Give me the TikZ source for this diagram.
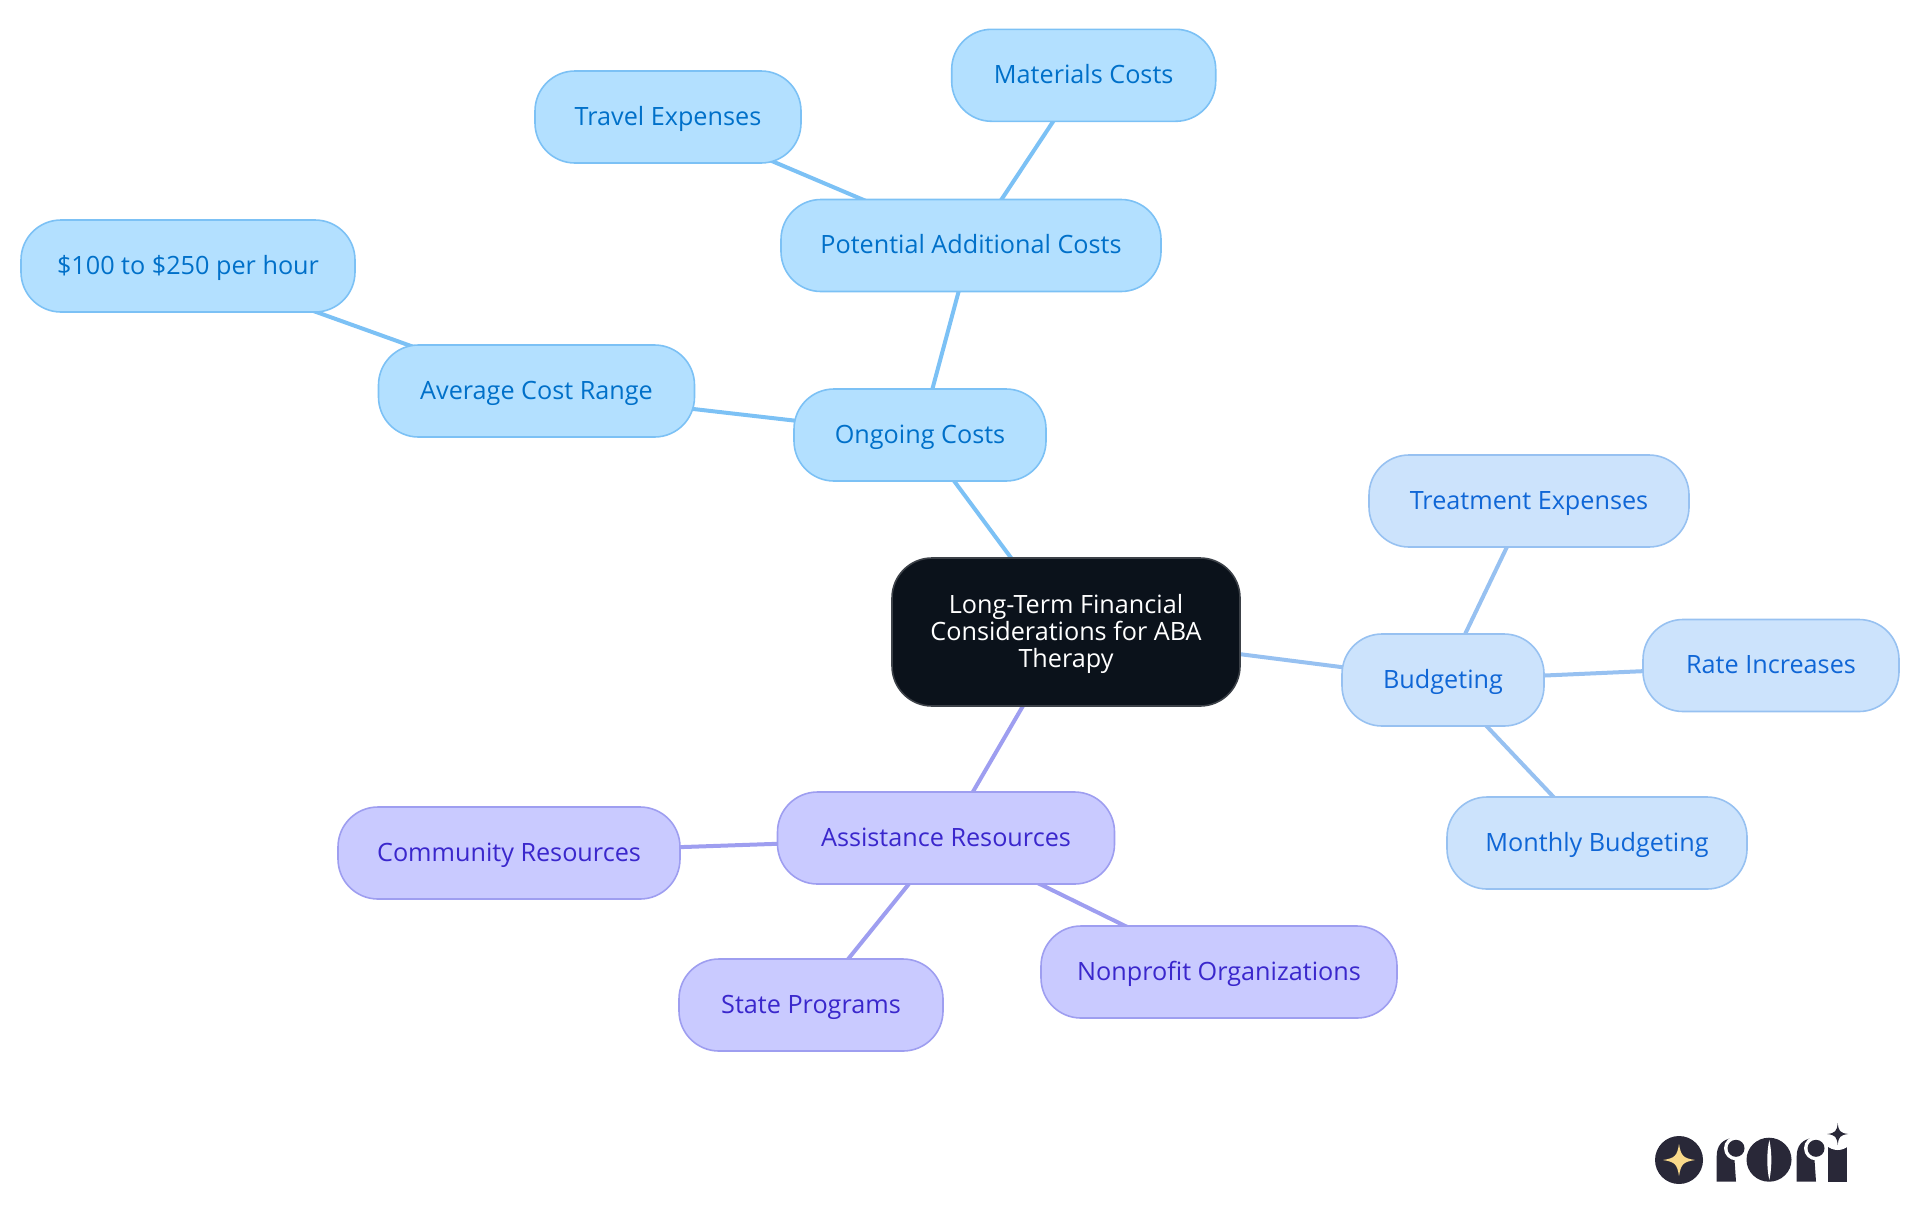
\documentclass[tikz,border=0pt]{standalone}
\usepackage{fontspec}
\setmainfont{Open Sans}
\usepackage{xcolor}
\usetikzlibrary{backgrounds}
\definecolor{rootfill}{HTML}{0B121B}
\definecolor{rootline}{HTML}{3C4148}
\definecolor{skyfill}{HTML}{B3E0FF}
\definecolor{skyline}{HTML}{7CC1F5}
\definecolor{skytext}{HTML}{0070C9}
\definecolor{palefill}{HTML}{CCE3FC}
\definecolor{paleline}{HTML}{97C1F1}
\definecolor{paletext}{HTML}{0F66D6}
\definecolor{violetfill}{HTML}{C9CAFF}
\definecolor{violetline}{HTML}{9E9EF0}
\definecolor{violettext}{HTML}{3A27CC}
\definecolor{logodark}{HTML}{292838}
\definecolor{logostar}{HTML}{F9D98A}
\tikzset{
	topic/.style={rounded corners=20pt, minimum height=46pt, inner sep=0pt, line width=.8pt, font=\fontsize{12.6pt}{13.5pt}\selectfont},
	leaf/.style={topic, text height=10.8pt, text depth=2.6pt},
	sky/.style={leaf, fill=skyfill, draw=skyline, text=skytext},
	pale/.style={leaf, fill=palefill, draw=paleline, text=paletext},
	violet/.style={leaf, fill=violetfill, draw=violetline, text=violettext},
	root/.style={topic, fill=rootfill, draw=rootline, text=white, align=center, minimum width=174pt, minimum height=74pt, text height=38.7pt},
	skyedge/.style={draw=skyline, line width=2pt},
	paleedge/.style={draw=paleline, line width=2pt},
	violetedge/.style={draw=violetline, line width=2pt}
}
\begin{document}
\begin{tikzpicture}[x=0.5pt, y=-0.5pt]
		\useasboundingbox (0,0) rectangle (1920,1215);
		\node[root] (longterm) at (1066,632) {Long-Term Financial\\Considerations for ABA\\Therapy};
		\node[sky, minimum width=126pt] (ongoing) at (920,435) {Ongoing Costs};
		\node[sky, minimum width=190pt] (potential) at (971,245.5) {Potential Additional Costs};
		\node[sky, minimum width=132pt] (materials) at (1083.7,75.3) {Materials Costs};
		\node[sky, minimum width=133pt] (travel) at (668,117) {Travel Expenses};
		\node[sky, minimum width=158pt] (average) at (536.5,391) {Average Cost Range};
		\node[sky, minimum width=167pt] (hourly) at (188,266) {\$100 to \$250 per hour};
		\node[pale, minimum width=101pt] (budgeting) at (1443,680) {Budgeting};
		\node[pale, minimum width=160pt] (treatment) at (1529,501) {Treatment Expenses};
		\node[pale, minimum width=128pt] (rate) at (1771,665.5) {Rate Increases};
		\node[pale, minimum width=150pt] (monthly) at (1597,843) {Monthly Budgeting};
		\node[violet, minimum width=168.5pt] (assistance) at (946,838) {Assistance Resources};
		\node[violet, minimum width=171pt] (community) at (509,853) {Community Resources};
		\node[violet, minimum width=132pt] (state) at (811,1005) {State Programs};
		\node[violet, minimum width=178pt] (nonprofit) at (1219,972) {Nonprofit Organizations};
		\begin{scope}[on background layer]
			\draw[skyedge] (longterm.center) -- (ongoing.center);
			\draw[skyedge] (ongoing.center) -- (potential.center);
			\draw[skyedge] (potential.center) -- (materials.center);
			\draw[skyedge] (potential.center) -- (travel.center);
			\draw[skyedge] (ongoing.center) -- (average.center);
			\draw[skyedge] (average.center) -- (hourly.center);
			\draw[paleedge] (longterm.center) -- (budgeting.center);
			\draw[paleedge] (budgeting.center) -- (treatment.center);
			\draw[paleedge] (budgeting.center) -- (rate.center);
			\draw[paleedge] (budgeting.center) -- (monthly.center);
			\draw[violetedge] (longterm.center) -- (assistance.center);
			\draw[violetedge] (assistance.center) -- (community.center);
			\draw[violetedge] (assistance.center) -- (state.center);
			\draw[violetedge] (assistance.center) -- (nonprofit.center);
		\end{scope}
		% logo
		\fill[logodark] (1679,1160) circle[radius=24];
		\fill[logostar] (1679,1144) .. controls (1681,1156) and (1683,1158) .. (1695,1160) .. controls (1683,1162) and (1681,1164) .. (1679,1176) .. controls (1677,1164) and (1675,1162) .. (1663,1160) .. controls (1675,1158) and (1677,1156) .. (1679,1144) -- cycle;
		\fill[logodark] (1716.7,1181.7) -- (1716.7,1156) .. controls (1716.7,1146) and (1722,1139) .. (1733,1138) -- (1736,1181.7) -- cycle;
		\fill[white] (1736,1148.3) circle[radius=12];
		\fill[logodark] (1736,1148.3) circle[radius=8.5];
		\fill[logodark] (1769,1159.7) ellipse[x radius=22.5, y radius=22];
		\fill[white] (1769.3,1140) .. controls (1772,1152) and (1772,1168) .. (1769.3,1180) .. controls (1766.6,1168) and (1766.6,1152) .. (1769.3,1140) -- cycle;
		\fill[logodark] (1796.7,1181.7) -- (1796.7,1156) .. controls (1796.7,1146) and (1802,1139) .. (1813,1138) -- (1816,1181.7) -- cycle;
		\fill[white] (1816,1148.3) circle[radius=12];
		\fill[logodark] (1816,1148.3) circle[radius=8.5];
		\fill[logodark] (1828.3,1147) rectangle (1846.7,1181.7);
		\fill[white] (1837.7,1134) circle[radius=16];
		\fill[logodark] (1837.7,1123) .. controls (1838.5,1131) and (1840,1133) .. (1848.2,1134) .. controls (1840,1135) and (1838.5,1137) .. (1837.7,1145) .. controls (1836.9,1137) and (1835.4,1135) .. (1827.2,1134) .. controls (1835.4,1133) and (1836.9,1131) .. (1837.7,1123) -- cycle;
	\end{tikzpicture}
\end{document}
